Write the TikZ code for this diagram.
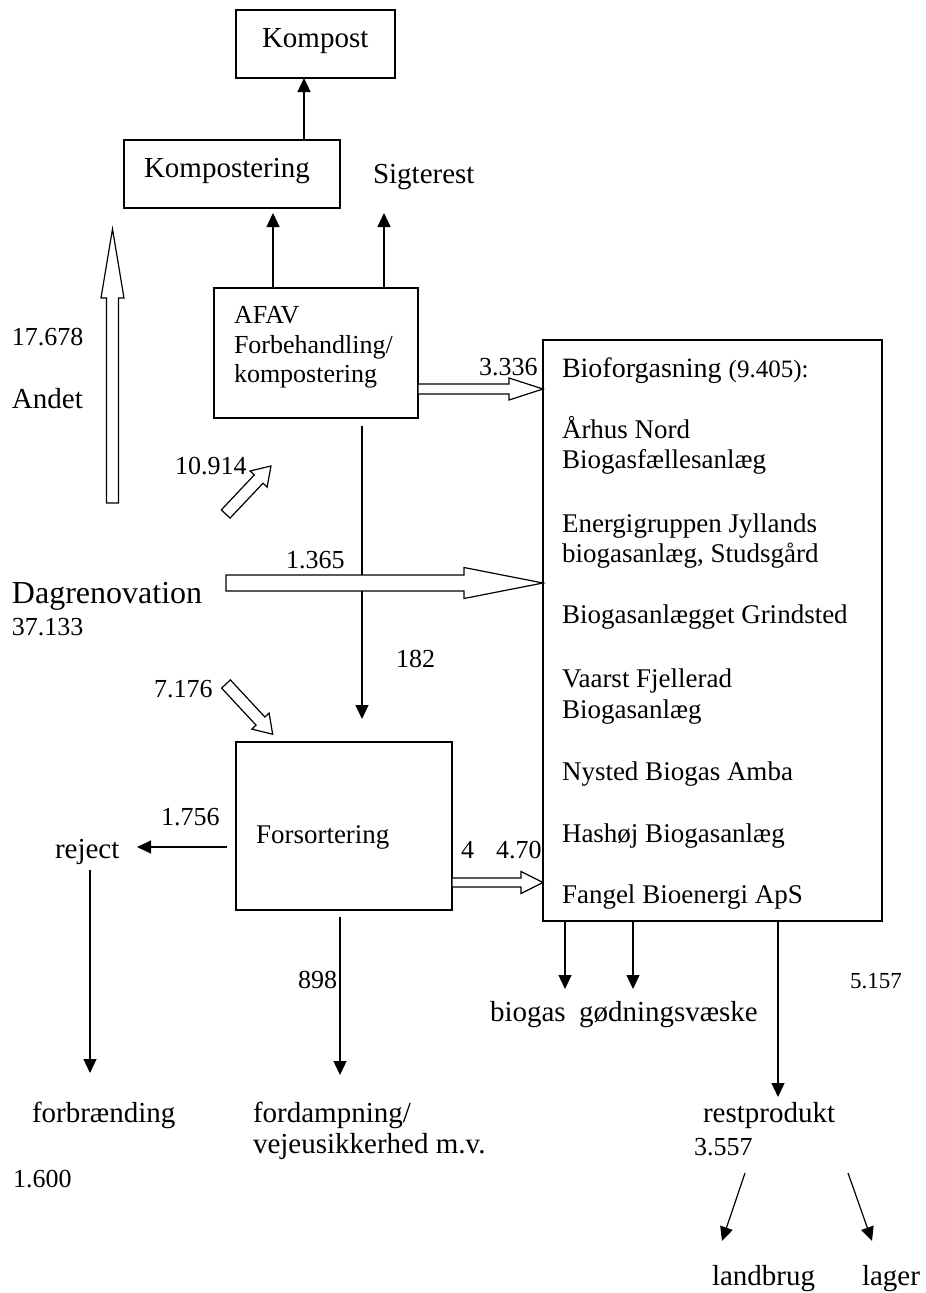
\documentclass[tikz,border=0pt]{standalone}
\usepackage{fontspec}
\setmainfont{Liberation Serif}
\usetikzlibrary{arrows.meta}
\tikzset{
  box/.style={draw, line width=1.2pt, fill=white, inner sep=0pt, outer sep=0pt},
  arr/.style={line width=1.2pt, -{Triangle[width=13pt,length=14pt]}},
  hollow/.style={draw, line width=1.2pt, fill=white, line join=miter},
  txt/.style={inner sep=0pt, outer sep=0pt, anchor=base west, font=\fontsize{27}{31}\selectfont},
  big/.style={txt, font=\fontsize{29}{34}\selectfont},
  num/.style={txt, font=\fontsize{26}{30}\selectfont},
}
\newcommand\hollowarrow[6]{%
  \begin{scope}[shift={(#1)},rotate=#2]
    \draw[hollow] (0,-#4) -- ({#3-#6},-#4) -- ({#3-#6},-#5) -- (#3,0) -- ({#3-#6},#5) -- ({#3-#6},#4) -- (0,#4) -- cycle;
  \end{scope}}
\begin{document}
\begin{tikzpicture}[x=1pt,y=-1pt]
\useasboundingbox (0,0) rectangle (926,1293);
\fill[white] (0,0) rectangle (926,1293);

% boxes
\node[box, minimum width=159pt, minimum height=68pt] (kompost) at (315.5,44) {};
\node[box, minimum width=216pt, minimum height=68pt] (kompostering) at (232,174) {};
\node[box, minimum width=204pt, minimum height=130pt] (afav) at (316,353) {};
\node[box, minimum width=216pt, minimum height=168pt] (fors) at (344,826) {};

% box texts
\node[big] (tKompost) at (262,47) {Kompost};
\node[big] (tKompostering) at (144,177) {Kompostering};
\node[big] (sigterest) at (373,183) {Sigterest};
\node[num] (tAfav1) at (234,323) {AFAV};
\node[num] (tAfav2) at (234,353) {Forbehandling/};
\node[num] (tAfav3) at (234,382) {kompostering};
\node[txt] (tFors) at (256,843) {Forsortering};

% free labels
\node[num] (l3336) at (479,375) {3.336};
\node[num] (l17678) at (12,345) {17.678};
\node[big] (andet) at (12,408) {Andet};
\node[num] (l10914) at (175,474) {10.914};
\node[num] (l1365) at (286,568) {1.365};
\node[txt, font=\fontsize{32}{36}\selectfont] (dag) at (12,603) {Dagrenovation};
\node[num] (l37133) at (12,635) {37.133};
\node[num] (l182) at (396,667) {182};
\node[num] (l7176) at (154,697) {7.176};
\node[num] (l1756) at (161,825) {1.756};
\node[big] (reject) at (55,858) {reject};
\node[num] (l4) at (461,858) {4};
\node[num] (l470) at (496,858) {4.70};
\node[num] (l898) at (298,988) {898};
\node[num, font=\fontsize{23}{27}\selectfont] (l5157) at (850,988) {5.157};
\node[big] (biogas) at (490,1021) {biogas};
\node[big] (goedn) at (579,1021) {gødningsvæske};
\node[big] (forbr) at (32,1122) {forbrænding};
\node[big] (fordamp) at (253,1122) {fordampning/};
\node[big] (vejeu) at (253,1153) {vejeusikkerhed m.v.};
\node[big] (rest) at (703,1122) {restprodukt};
\node[num] (l3557) at (694,1155) {3.557};
\node[num] (l1600) at (13,1187) {1.600};
\node[big] (landbrug) at (712,1285) {landbrug};
\node[big] (lager) at (862,1285) {lager};

% Bioforgasning box (drawn over the cut-off 4.70)
\node[box, minimum width=339pt, minimum height=581pt] (bio) at (712.5,630.5) {};
\node[txt, font=\fontsize{28}{32}\selectfont] (bHead) at (562,377) {Bioforgasning {\fontsize{25}{30}\selectfont(9.405):}};
\node[txt] (b1) at (562,438) {Århus Nord};
\node[txt] (b2) at (562,468) {Biogasfællesanlæg};
\node[txt] (b3) at (562,532) {Energigruppen Jyllands};
\node[txt] (b4) at (562,562) {biogasanlæg, Studsgård};
\node[txt] (b5) at (562,623) {Biogasanlægget Grindsted};
\node[txt] (b6) at (562,687) {Vaarst Fjellerad};
\node[txt] (b7) at (562,718) {Biogasanlæg};
\node[txt] (b8) at (562,780) {Nysted Biogas Amba};
\node[txt] (b9) at (562,842) {Hashøj Biogasanlæg};
\node[txt] (b10) at (562,903) {Fangel Bioenergi ApS};

% solid arrows
\draw[arr] (304,0 |- kompostering.north) -- (304,0 |- kompost.south);
\draw[arr, shorten >=5pt] (273,0 |- afav.north) -- (273,0 |- kompostering.south);
\coordinate (sigIn) at (384,213);
\draw[arr] (384,0 |- afav.north) -- (sigIn);
\draw[arr, shorten <=8pt, shorten >=23pt] (362,0 |- afav.south) -- (362,0 |- fors.north);
\coordinate (rejOut) at (227,847);
\coordinate (rejIn) at (137,847);
\draw[arr] (rejOut) -- (rejIn);
\coordinate (rejTop) at (90,870);
\coordinate (forbrIn) at (90,1073);
\draw[arr] (rejTop) -- (forbrIn);
\coordinate (fordIn) at (340,1075);
\draw[arr, shorten <=7pt] (340,0 |- fors.south) -- (fordIn);
\coordinate (biogasIn) at (565,989);
\coordinate (goednIn) at (633,989);
\coordinate (restIn) at (778,1097);
\draw[arr] (565,0 |- bio.south) -- (biogasIn);
\draw[arr] (633,0 |- bio.south) -- (goednIn);
\draw[arr] (778,0 |- bio.south) -- (restIn);
\coordinate (landOut) at (745,1173);
\coordinate (landIn) at (722,1241);
\coordinate (lagOut) at (848,1173);
\coordinate (lagIn) at (872,1241);
\draw[arr] (landOut) -- (landIn);
\draw[arr] (lagOut) -- (lagIn);

% hollow arrows
\coordinate (andetTail) at (112.5,503);
\hollowarrow{andetTail}{90}{274}{6}{11.5}{69}
\coordinate (afavTail) at (afav.east |- 0,389);
\hollowarrow{afavTail}{0}{125}{5}{11}{34}
\coordinate (dagTail) at (226,583);
\hollowarrow{dagTail}{0}{317}{8}{15.5}{79}
\coordinate (forsTail) at (fors.east |- 0,882.5);
\hollowarrow{forsTail}{0}{91}{4.5}{11}{22}
\coordinate (tenTail) at (225.7,514);
\hollowarrow{tenTail}{46.7}{66}{6}{11.7}{18}
\coordinate (sevenTail) at (226,684);
\hollowarrow{sevenTail}{-47.1}{68.6}{6}{11.8}{18}
\end{tikzpicture}
\end{document}
